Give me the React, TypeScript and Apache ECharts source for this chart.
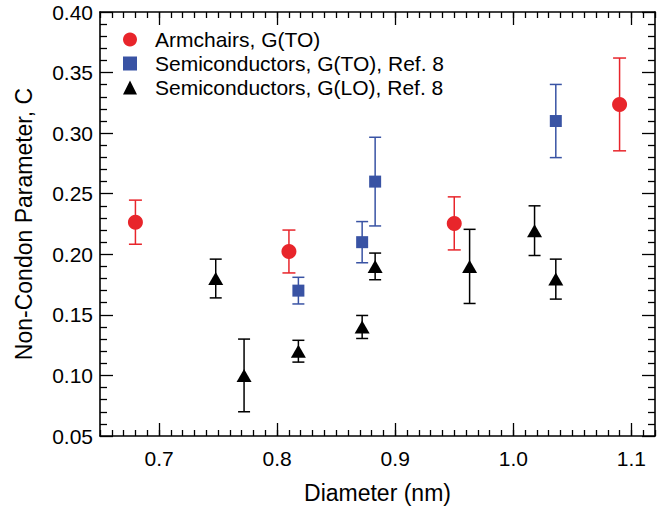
import React, { useEffect, useRef } from "react";
import * as echarts from "echarts";

// ---- data ----
const armX = [0.68, 0.81, 0.95, 1.09];
const armY = [0.2265, 0.2023, 0.2255, 0.3237];
const armErr = [0.0182, 0.0177, 0.0219, 0.0383];

const toX = [0.818, 0.872, 0.883, 1.036];
const toY = [0.17, 0.21, 0.26, 0.31];
const toErr = [0.011, 0.017, 0.0366, 0.0302];

const loX = [0.748, 0.772, 0.818, 0.872, 0.883, 0.963, 1.018, 1.036];
const loY = [0.18, 0.1, 0.12, 0.14, 0.19, 0.19, 0.2195, 0.1795];
const loErr = [0.016, 0.03, 0.009, 0.0095, 0.011, 0.0306, 0.0205, 0.0165];

const xMajorTicks = [0.7, 0.8, 0.9, 1.0, 1.1];
const xMin = 0.65;
const xMax = 1.12;
const yMin = 0.05;
const yMax = 0.4;
const yStep = 0.05;

const nameArm = "Armchairs, G(TO)";
const nameTO = "Semiconductors, G(TO), Ref. 8";
const nameLO = "Semiconductors, G(LO), Ref. 8";

const RED = "#e8252b";
const BLUE = "#3953a4";
const BLACK = "#000000";

const FONT = "'Liberation Sans', Arial, Helvetica, sans-serif";

function pts(xs: number[], ys: number[]) {
  return xs.map((x, i) => [x, ys[i]]);
}
function errPts(xs: number[], ys: number[], es: number[]) {
  return xs.map((x, i) => [x, ys[i], es[i]]);
}

function errorSeries(name: string, data: number[][], color: string, hw: number) {
  return {
    type: "custom",
    name,
    xAxisIndex: 0,
    yAxisIndex: 0,
    z: 1,
    silent: true,
    encode: { x: 0, y: 1 },
    data,
    renderItem: (params: any, api: any) => {
      const x = api.value(0);
      const y = api.value(1);
      const e = api.value(2);
      const top = api.coord([x, y + e]);
      const bot = api.coord([x, y - e]);
      const style = { stroke: color, lineWidth: 1.5 };
      return {
        type: "group",
        children: [
          { type: "line", shape: { x1: top[0], y1: top[1], x2: bot[0], y2: bot[1] }, style },
          { type: "line", shape: { x1: top[0] - hw, y1: top[1], x2: top[0] + hw, y2: top[1] }, style },
          { type: "line", shape: { x1: bot[0] - hw, y1: bot[1], x2: bot[0] + hw, y2: bot[1] }, style },
        ],
      };
    },
  };
}

export default function App() {
  const ref = useRef<HTMLDivElement>(null);
  useEffect(() => {
    if (!ref.current) return;
    const chart = echarts.init(ref.current, null, { renderer: "svg" });
    const axisLine = { show: true, onZero: false, lineStyle: { color: BLACK, width: 1.6 } };
    const majorTickStyle = { color: BLACK, width: 1.3 };
    const xMajorBase = {
      type: "value",
      min: xMin,
      max: xMax,
      splitLine: { show: false },
      axisLine,
      axisTick: { show: true, inside: true, length: 13, lineStyle: majorTickStyle, customValues: xMajorTicks },
    };
    const xMinorBase = {
      type: "value",
      min: xMin,
      max: xMax,
      interval: 0.01,
      splitLine: { show: false },
      axisLine: { show: false, onZero: false },
      axisLabel: { show: false },
      axisTick: { show: true, inside: true, length: 6, lineStyle: majorTickStyle },
    };
    const yBase = {
      type: "value",
      min: yMin,
      max: yMax,
      interval: yStep,
      splitLine: { show: false },
      axisLine,
      axisTick: { show: true, inside: true, length: 13, lineStyle: majorTickStyle },
      minorTick: { show: true, splitNumber: 5, length: 7, lineStyle: majorTickStyle },
    };
    chart.setOption({
      animation: false,
      backgroundColor: "#ffffff",
      grid: { left: 100, right: 13, top: 12, bottom: 73, containLabel: false },
      legend: {
        data: [nameArm, nameTO, nameLO],
        orient: "vertical",
        left: 118,
        top: 24,
        itemWidth: 14,
        itemHeight: 14,
        itemGap: 3,
        textStyle: {
          fontFamily: FONT,
          fontSize: 21,
          color: BLACK,
          lineHeight: 20.5,
          padding: [0, 0, 0, 13],
        },
      },
      xAxis: [
        {
          ...xMajorBase,
          position: "bottom",
          name: "Diameter (nm)",
          nameLocation: "middle",
          nameGap: 45,
          nameTextStyle: { fontFamily: FONT, fontSize: 23, color: BLACK },
          axisLabel: {
            show: true,
            margin: 12,
            fontFamily: FONT,
            fontSize: 21,
            color: BLACK,
            customValues: xMajorTicks,
            formatter: (v: number) => v.toFixed(1),
          },
        },
        { ...xMajorBase, position: "top", axisLabel: { show: false } },
        { ...xMinorBase, position: "bottom" },
        { ...xMinorBase, position: "top" },
      ],
      yAxis: [
        {
          ...yBase,
          position: "left",
          name: "Non-Condon Parameter, C",
          nameLocation: "middle",
          nameGap: 65,
          nameTextStyle: { fontFamily: FONT, fontSize: 23, color: BLACK },
          axisLabel: {
            show: true,
            margin: 7,
            fontFamily: FONT,
            fontSize: 21,
            color: BLACK,
            formatter: (v: number) => v.toFixed(2),
          },
        },
        { ...yBase, position: "right", axisLabel: { show: false } },
      ],
      series: [
        errorSeries("armErr", errPts(armX, armY, armErr), RED, 6.5),
        errorSeries("toErr", errPts(toX, toY, toErr), BLUE, 6),
        errorSeries("loErr", errPts(loX, loY, loErr), BLACK, 6),
        {
          type: "scatter",
          name: nameArm,
          data: pts(armX, armY),
          symbol: "circle",
          symbolSize: 15,
          itemStyle: { color: RED, opacity: 1 },
          z: 3,
        },
        {
          type: "scatter",
          name: nameTO,
          data: pts(toX, toY),
          symbol: "rect",
          symbolSize: 12,
          itemStyle: { color: BLUE, opacity: 1 },
          z: 3,
        },
        {
          type: "scatter",
          name: nameLO,
          data: pts(loX, loY),
          symbol: "triangle",
          symbolSize: [15, 13],
          itemStyle: { color: BLACK, opacity: 1 },
          z: 3,
        },
      ],
    });
    return () => chart.dispose();
  }, []);
  return (
    <div
      ref={ref}
      style={{ position: "fixed", left: 0, top: 0, width: 668, height: 509, background: "#fff" }}
    />
  );
}
